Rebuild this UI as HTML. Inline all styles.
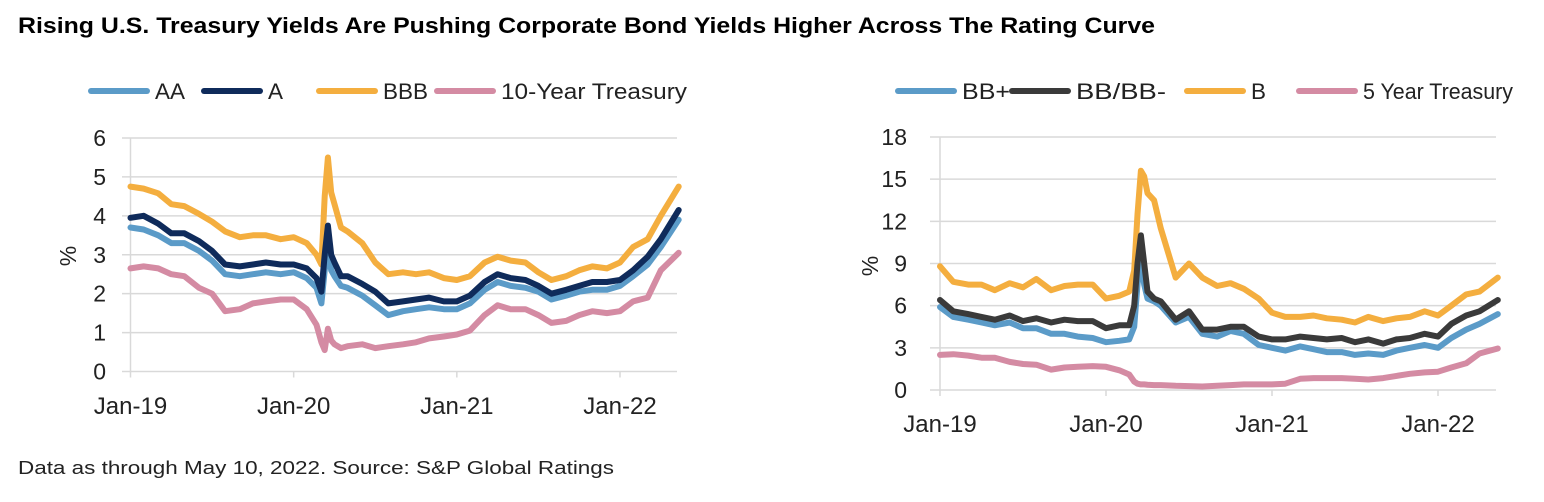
<!DOCTYPE html>
<html><head><meta charset="utf-8">
<style>
body{margin:0;background:#fff;width:1544px;height:502px;overflow:hidden;font-family:"Liberation Sans",sans-serif;}
svg{position:absolute;left:0;top:0}
</style></head>
<body>
<svg id="chart" width="1544" height="502" viewBox="0 0 1544 502">
<text x="18" y="33" font-size="22" font-weight="bold" fill="#000" textLength="1137" lengthAdjust="spacingAndGlyphs">Rising U.S. Treasury Yields Are Pushing Corporate Bond Yields Higher Across The Rating Curve</text>
<text x="18" y="474" font-size="18" fill="#222" textLength="596" lengthAdjust="spacingAndGlyphs">Data as through May 10, 2022. Source: S&amp;P Global Ratings</text>
<g id="left"></g>
<g id="right"></g>
</svg>
<script>
const dates=[0,0.08,0.17,0.25,0.33,0.42,0.5,0.58,0.67,0.75,0.83,0.92,1.0,1.08,1.14,1.17,1.19,1.21,1.23,1.25,1.29,1.33,1.42,1.5,1.58,1.67,1.75,1.83,1.92,2.0,2.08,2.17,2.25,2.33,2.42,2.5,2.58,2.67,2.75,2.83,2.92,3.0,3.08,3.17,3.25,3.36];
const xTickLabels=["Jan-19","Jan-20","Jan-21","Jan-22"];
const xTickValues=[0,1,2,3];
const leftYTicks=[0,1,2,3,4,5,6];
const rightYTicks=[0,3,6,9,12,15,18];
const bbb=[4.75,4.7,4.58,4.3,4.25,4.05,3.85,3.6,3.45,3.5,3.5,3.4,3.45,3.3,3.0,2.75,4.5,5.5,4.6,4.3,3.7,3.6,3.3,2.8,2.5,2.55,2.5,2.55,2.4,2.35,2.45,2.8,2.95,2.85,2.8,2.55,2.35,2.45,2.6,2.7,2.65,2.8,3.2,3.4,4.0,4.75];
const aRating=[3.95,4.0,3.8,3.55,3.55,3.35,3.1,2.75,2.7,2.75,2.8,2.75,2.75,2.65,2.4,2.05,3.0,3.75,3.0,2.8,2.45,2.45,2.25,2.05,1.75,1.8,1.85,1.9,1.8,1.8,1.95,2.3,2.5,2.4,2.35,2.2,2.0,2.1,2.2,2.3,2.3,2.35,2.6,2.95,3.4,4.15];
const aa=[3.7,3.65,3.5,3.3,3.3,3.1,2.85,2.5,2.45,2.5,2.55,2.5,2.55,2.4,2.15,1.75,2.6,3.2,2.6,2.45,2.2,2.15,1.95,1.7,1.45,1.55,1.6,1.65,1.6,1.6,1.75,2.1,2.3,2.2,2.15,2.05,1.85,1.95,2.05,2.1,2.1,2.2,2.45,2.75,3.2,3.9];
const t10=[2.65,2.7,2.65,2.5,2.45,2.15,2.0,1.55,1.6,1.75,1.8,1.85,1.85,1.6,1.2,0.75,0.55,1.1,0.8,0.7,0.6,0.65,0.7,0.6,0.65,0.7,0.75,0.85,0.9,0.95,1.05,1.45,1.7,1.6,1.6,1.45,1.25,1.3,1.45,1.55,1.5,1.55,1.8,1.9,2.6,3.05];
const bRating=[8.8,7.7,7.5,7.5,7.1,7.6,7.3,7.9,7.1,7.4,7.5,7.5,6.5,6.7,7.0,8.5,12.5,15.6,15.2,14.0,13.5,11.5,8.0,9.0,8.0,7.4,7.6,7.2,6.5,5.5,5.2,5.2,5.3,5.1,5.0,4.8,5.2,4.9,5.1,5.2,5.6,5.3,6.0,6.8,7.0,8.0];
const bb=[6.4,5.6,5.4,5.2,5.0,5.3,4.9,5.1,4.8,5.0,4.9,4.9,4.4,4.6,4.6,6.0,9.0,11.0,9.0,7.0,6.5,6.3,5.0,5.6,4.3,4.3,4.5,4.5,3.8,3.6,3.6,3.8,3.7,3.6,3.7,3.4,3.6,3.3,3.6,3.7,4.0,3.8,4.7,5.3,5.6,6.4];
const bbPlus=[5.9,5.2,5.0,4.8,4.6,4.8,4.4,4.4,4.0,4.0,3.8,3.7,3.4,3.5,3.6,4.5,7.5,9.5,7.5,6.5,6.3,6.0,4.8,5.2,4.0,3.8,4.2,4.0,3.2,3.0,2.8,3.1,2.9,2.7,2.7,2.5,2.6,2.5,2.8,3.0,3.2,3.0,3.7,4.3,4.7,5.4];
const t5=[2.5,2.55,2.45,2.3,2.3,2.0,1.85,1.8,1.45,1.6,1.65,1.7,1.65,1.4,1.1,0.6,0.45,0.4,0.4,0.38,0.35,0.35,0.3,0.28,0.25,0.3,0.35,0.4,0.4,0.4,0.45,0.8,0.85,0.85,0.85,0.8,0.75,0.85,1.0,1.15,1.25,1.3,1.6,1.9,2.6,2.95];

const NS="http://www.w3.org/2000/svg";
function mk(tag,attrs,parent){const e=document.createElementNS(NS,tag);for(const k in attrs)e.setAttribute(k,attrs[k]);parent.appendChild(e);return e;}

function drawChart(g,cfg){
  const xS=v=>cfg.x0+(cfg.x3-cfg.x0)*v/3;
  const yS=v=>cfg.yB+(cfg.yT-cfg.yB)*v/cfg.yMax;
  cfg.yTicks.forEach(v=>{
    const l=mk('line',{x1:cfg.gl,x2:cfg.gr,y1:yS(v),y2:yS(v),stroke:'#d9d9d9','stroke-width':1.5},g);
    
    
    const t=mk('text',{x:cfg.yLabX,y:yS(v)+8,'text-anchor':'end','font-size':23,fill:'#222'},g);
    t.textContent=v;
    
    
  });
  const ax=mk('line',{x1:xS(0),x2:xS(0),y1:cfg.yT,y2:cfg.yB,stroke:'#d9d9d9','stroke-width':1.5},g);
  
  
  xTickValues.forEach((v,i)=>{
    const tk=mk('line',{x1:xS(v),x2:xS(v),y1:cfg.yB,y2:cfg.yB+6,stroke:'#d9d9d9','stroke-width':1.5},g);
    
    
    const t=mk('text',{x:xS(v),y:cfg.xLabY,'text-anchor':'middle','font-size':24,fill:'#222'},g);
    t.textContent=xTickLabels[i];
    
    
  });
  const yt=mk('text',{x:0,y:0,'font-size':23,fill:'#222','text-anchor':'middle',transform:`translate(${cfg.pctX},${cfg.pctY}) rotate(-90)`},g);
  yt.textContent='%';
  
  
  cfg.series.forEach(s=>{
    const d=s.vals.map((v,i)=>(i?'L':'M')+xS(dates[i]).toFixed(1)+','+yS(v).toFixed(1)).join(' ');
    const p=mk('path',{d:d,fill:'none',stroke:s.color,'stroke-width':6,'stroke-linejoin':'round','stroke-linecap':'round'},g);
    
    
  });
  cfg.legend.forEach(l=>{
    const ln=mk('line',{x1:l.x,x2:l.x+56,y1:91,y2:91,stroke:l.color,'stroke-width':6,'stroke-linecap':'round'},g);
    
    
    const t=mk('text',{x:l.x+64,y:99,'font-size':22,fill:'#222',textLength:l.w,lengthAdjust:'spacingAndGlyphs'},g);
    t.textContent=l.label;
    
    
  });
}
drawChart(document.getElementById('left'),{
  x0:130.5,x3:620,yT:138,yB:371.5,yMax:6,gl:122,gr:677,yLabX:106,xLabY:414,pctX:76,pctY:256,yTicks:leftYTicks,
  series:[{id:'10-year-treasury',vals:t10,color:'#d48ba3'},{id:'bbb',vals:bbb,color:'#f4ae3f'},{id:'aa',vals:aa,color:'#5b9bc8'},{id:'a',vals:aRating,color:'#0f2b5b'}],
  legend:[{x:91,label:'AA',color:'#5b9bc8',w:30},{x:204,label:'A',color:'#0f2b5b',w:15},{x:319,label:'BBB',color:'#f4ae3f',w:45},{x:437,label:'10-Year Treasury',color:'#d48ba3',w:186}]
});
drawChart(document.getElementById('right'),{
  x0:940,x3:1438,yT:137,yB:390,yMax:18,gl:930,gr:1496,yLabX:907,xLabY:432,pctX:878,pctY:266,yTicks:rightYTicks,
  series:[{id:'5-year-treasury',vals:t5,color:'#d48ba3'},{id:'b',vals:bRating,color:'#f4ae3f'},{id:'bb-plus',vals:bbPlus,color:'#5b9bc8'},{id:'bb-bb-minus',vals:bb,color:'#3a3a3a'}],
  legend:[{x:898,label:'BB+',color:'#5b9bc8',w:48},{x:1012,label:'BB/BB-',color:'#3a3a3a',w:90},{x:1187,label:'B',color:'#f4ae3f',w:15},{x:1299,label:'5 Year Treasury',color:'#d48ba3',w:150}]
});
</script>
</body></html>
